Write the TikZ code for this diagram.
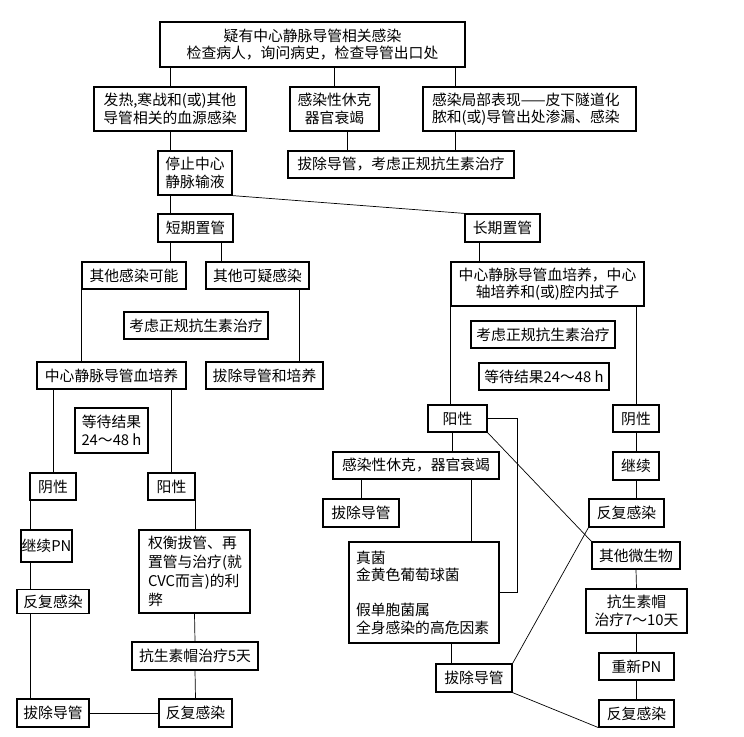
\documentclass[tikz,border=0pt]{standalone}
\usepackage{fontspec}
\setmainfont{Noto Sans CJK SC}

\begin{document}
\begin{tikzpicture}[
    x=1pt, y=-1pt, % one unit is one pixel of the page
    every node/.style={font=\fontsize{14.8}{17.5}\selectfont},
    box/.style={draw, line width=1.2pt, inner sep=0pt, align=center},
    sz/.style 2 args={minimum width=#1pt, minimum height=#2pt},
    link/.style={line width=0.7pt}
  ]

  \useasboundingbox (0,0) rectangle (744,736);

  % top rows
  \node[box, sz={305}{45}] (top) at (312.5,44.5) {疑有中心静脉导管相关感染\\检查病人，询问病史，检查导管出口处};
  \node[box, sz={152}{44}] (fever) at (170,109) {发热,寒战和(或)其他\\导管相关的血源感染};
  \node[box, sz={89}{44}] (shock1) at (334.5,109) {感染性休克\\器官衰竭};
  \node[box, align=left, inner xsep=9pt, text width=195pt, minimum height=44pt] (local) at (529.5,109) {感染局部表现——皮下隧道化\\脓和(或)导管出处渗漏、感染};
  \node[box, sz={226}{27}] (remove1) at (401,164.5) {拔除导管，考虑正规抗生素治疗};
  \node[box, sz={74}{44}] (stop) at (195,173) {停止中心\\静脉输液};
  \node[box, sz={75}{28}] (short) at (195.5,228) {短期置管};
  \node[box, sz={75}{28}] (long) at (502.5,228) {长期置管};

  % short-term branch
  \node[box, sz={104}{27}] (otherposs) at (134,275.5) {其他感染可能};
  \node[box, sz={103}{27}] (othersusp) at (257.5,275.5) {其他可疑感染};
  \node[box, sz={144}{27}] (abxL) at (196,325.5) {考虑正规抗生素治疗};
  \node[box, sz={149}{27}] (cvcL) at (111.5,375.5) {中心静脉导管血培养};
  \node[box, sz={117}{27}] (removecult) at (264.5,375.5) {拔除导管和培养};
  \node[box, sz={73}{45}] (waitL) at (111.5,430.5) {等待结果\\24～48 h};
  \node[box, sz={46}{27}] (negL) at (53,486.5) {阴性};
  \node[box, sz={47}{27}] (posL) at (171.5,486.5) {阳性};
  \node[box, sz={51}{32}] (contPN) at (46.5,546) {继续PN};
  \node[box, sz={72}{24}] (recurL1) at (53,601.5) {反复感染};
  \node[box, sz={72}{28}] (removeL) at (53,713) {拔除导管};
  \node[box, align=left, inner xsep=9pt, text width=93pt, minimum height=83pt,
        font=\fontsize{14.8}{19}\selectfont] (weigh) at (194.5,571.5) {权衡拔管、再\\置管与治疗(就\\CVC而言)的利\\弊};
  \node[box, sz={126}{28}] (abx5) at (195,656) {抗生素帽治疗5天};
  \node[box, sz={73}{28}] (recurL2) at (195.5,713) {反复感染};

  % long-term branch
  \node[box, sz={193}{44}] (cvcR) at (547.5,284) {中心静脉导管血培养，中心\\轴培养和(或)腔内拭子};
  \node[box, sz={144}{27}] (abxR) at (543,334.5) {考虑正规抗生素治疗};
  \node[box, sz={130}{27}] (waitR) at (544,376.5) {等待结果24～48 h};
  \node[box, sz={59}{27}] (posR) at (457.5,418.5) {阳性};
  \node[box, sz={46}{27}] (negR) at (636,418.5) {阴性};
  \node[box, sz={46}{28}] (cont) at (636,466) {继续};
  \node[box, sz={75}{28}] (recurR1) at (626.5,513) {反复感染};
  \node[box, sz={166}{27}] (shockR) at (416,465.5) {感染性休克，器官衰竭};
  \node[box, sz={76}{28}] (removeR1) at (361,513) {拔除导管};
  \node[box, align=left, inner xsep=7pt, text width=136pt, minimum height=101pt] (fungi) at (424,592.5) {真菌\\金黄色葡萄球菌\\[17.5pt]假单胞菌属\\全身感染的高危因素};
  \node[box, sz={76}{28}] (removeR2) at (474,678) {拔除导管};
  \node[box, sz={88}{27}] (othermicro) at (636,555.5) {其他微生物};
  \node[box, sz={101}{44}] (abx710) at (636.5,611) {抗生素帽\\治疗7～10天};
  \node[box, sz={75}{27}] (renewPN) at (636.5,666.5) {重新PN};
  \node[box, sz={75}{27}] (recurR2) at (636.5,713.5) {反复感染};

  % x positions of connectors that leave a box off its centre
  \coordinate (xa) at (455,0);
  \coordinate (xb) at (347,0);
  \coordinate (xc) at (221,0);
  \coordinate (xd) at (299,0);
  \coordinate (xe) at (479,0);
  \coordinate (xf) at (452,0);
  \coordinate (xg) at (471,0);
  \coordinate (xh) at (451,0);
  \coordinate (xi) at (30,0);

  % connectors, top
  \draw[link] (fever.north) -- (fever.north |- top.south);
  \draw[link] (shock1.north) -- (shock1.north |- top.south);
  \draw[link] (xa |- top.south) -- (xa |- local.north);
  \draw[link] (xa |- local.south) -- (xa |- remove1.north);
  \draw[link] (xb |- shock1.south) -- (xb |- remove1.north);
  \draw[link] (fever.south) -- (fever.south |- stop.north);
  \draw[link] (fever.south |- stop.south) -- (fever.south |- short.north);
  \draw[link] (stop.south east) -- (long.north west);

  % connectors, short-term
  \draw[link] (fever.south |- short.south) -- (fever.south |- otherposs.north);
  \draw[link] (xc |- short.south) -- (xc |- othersusp.north);
  \draw[link] (otherposs.south west) -- (otherposs.south west |- cvcL.north);
  \draw[link] (xd |- othersusp.south) -- (xd |- removecult.north);
  \draw[link] (negL.north) -- (negL.north |- cvcL.south);
  \draw[link] (posL.north) -- (posL.north |- cvcL.south);
  \draw[link] (xi |- negL.south) -- (xi |- contPN.north);
  \draw[link] (xi |- contPN.south) -- (xi |- recurL1.north);
  \draw[link] (xi |- recurL1.south) -- (xi |- removeL.north);
  \draw[link] (posL.south east) -- (posL.south east |- weigh.north);
  \draw[link] (weigh.south) -- (abx5.north);
  \draw[link] (abx5.south) -- (recurL2.north);
  \draw[link] (removeL.east) -- (recurL2.west);

  % connectors, long-term
  \draw[link] (xe |- long.south) -- (xe |- cvcR.north);
  \draw[link] (cvcR.south west) -- (cvcR.south west |- posR.north);
  \draw[link] (negR.north) -- (negR.north |- cvcR.south);
  \draw[link] (negR.south) -- (cont.north);
  \draw[link] (cont.south) -- (cont.south |- recurR1.north);
  \draw[link] (posR.east) -- ++(30,0) |- (fungi.east);
  \draw[link] (posR.south east) -- (othermicro.north west);
  \draw[link] (xf |- posR.south) -- (xf |- shockR.north);
  \draw[link] (removeR1.north) -- (removeR1.north |- shockR.south);
  \draw[link] (xg |- shockR.south) -- (xg |- fungi.north);
  \draw[link] (xh |- fungi.south) -- (xh |- removeR2.north);
  \draw[link] (removeR2.north east) -- (recurR1.south west);
  \draw[link] (removeR2.south east) -- (recurR2.south west);
  \draw[link] (othermicro.south) -- (abx710.north);
  \draw[link] (abx710.south) -- (renewPN.north);
  \draw[link] (renewPN.south) -- (recurR2.north);

\end{tikzpicture}
\end{document}
